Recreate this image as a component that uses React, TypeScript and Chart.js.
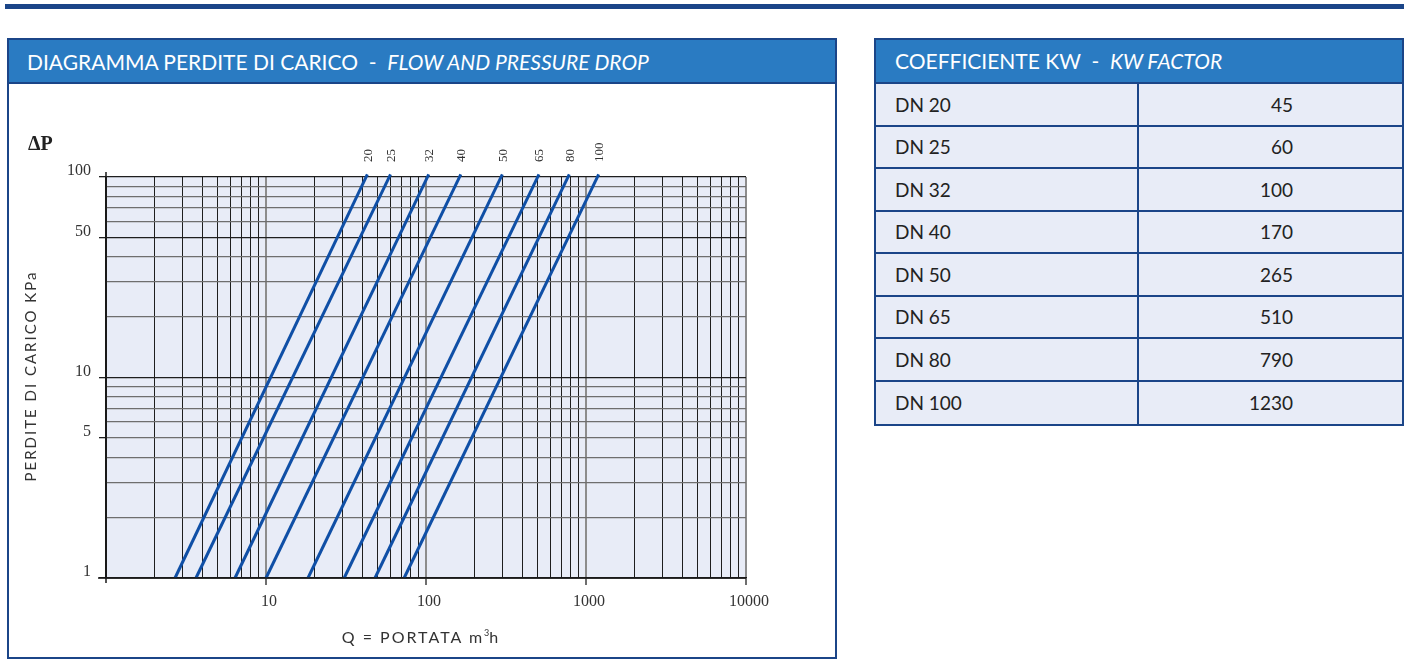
import React, { useEffect, useRef } from "react";
import { Chart, registerables } from "chart.js";

Chart.register(...registerables);

// ---- data ----
const DN_SIZES = ["20", "25", "32", "40", "50", "65", "80", "100"];
const FLOW_AT_BOTTOM = [2.7, 3.65, 6.4, 10, 18.3, 30.8, 48, 73]; // Q (m3/h) at ΔP = 1 kPa
const FLOW_AT_TOP = [43, 60, 104, 165, 300, 508, 786, 1200]; // Q (m3/h) at top end of each line
const DP_BOTTOM = 1;
const DP_TOP = 103;

const X_TICK_LABELS = [10, 100, 1000, 10000];
const Y_TICK_LABELS = [1, 5, 10, 50, 100];
const X_DECADES = [1, 10, 100, 1000, 10000];
const Y_DECADES = [1, 10, 100];
const GRID_MULTIPLES = [1, 2, 3, 4, 5, 6, 7, 8, 9];

const TABLE_DN = ["DN 20", "DN 25", "DN 32", "DN 40", "DN 50", "DN 65", "DN 80", "DN 100"];
const TABLE_KW = ["45", "60", "100", "170", "265", "510", "790", "1230"];

const buildGrid = (decades: number[]) => {
  const out: number[] = [];
  decades.forEach((d, i) => {
    if (i === decades.length - 1) out.push(d);
    else GRID_MULTIPLES.forEach((m) => out.push(m * d));
  });
  return out;
};
const X_GRID = buildGrid(X_DECADES);
const Y_GRID = buildGrid(Y_DECADES);

const NAVY = "#1b4588";
const HEADER_BLUE = "#2a7bc2";
const PLOT_BG = "#e8ecf7";
const LINE_BLUE = "#0f4fa6";

const bgPlugin = {
  id: "plotBg",
  beforeDraw(chart: any) {
    const { ctx, chartArea } = chart;
    ctx.save();
    ctx.fillStyle = PLOT_BG;
    ctx.fillRect(chartArea.left, chartArea.top, chartArea.right - chartArea.left, chartArea.bottom - chartArea.top);
    ctx.restore();
  },
};

const decorPlugin = {
  id: "decor",
  afterDraw(chart: any) {
    const { ctx, chartArea } = chart;
    ctx.save();
    // extended axes
    ctx.strokeStyle = "#1a1a1a";
    ctx.lineWidth = 1.5;
    ctx.beginPath();
    ctx.moveTo(chartArea.left, chartArea.top - 5);
    ctx.lineTo(chartArea.left, chartArea.bottom + 5);
    ctx.moveTo(chartArea.left - 8, chartArea.bottom);
    ctx.lineTo(chartArea.right, chartArea.bottom);
    ctx.stroke();
    // size labels above each line
    ctx.fillStyle = "#333";
    ctx.font = "13px 'Liberation Serif'";
    ctx.textAlign = "left";
    ctx.textBaseline = "middle";
    DN_SIZES.forEach((s, i) => {
      const meta = chart.getDatasetMeta(i);
      const pt = meta.data[1];
      if (!pt) return;
      ctx.save();
      ctx.translate(pt.x + 1, chartArea.top - 15);
      ctx.rotate(-Math.PI / 2);
      ctx.fillText(s, 0, 0);
      ctx.restore();
    });
    ctx.restore();
  },
};

function PressureChart() {
  const ref = useRef<HTMLCanvasElement | null>(null);
  useEffect(() => {
    if (!ref.current) return;
    const chart = new Chart(ref.current, {
      type: "line",
      data: {
        datasets: DN_SIZES.map((s, i) => ({
          label: "DN " + s,
          data: [
            { x: FLOW_AT_BOTTOM[i], y: DP_BOTTOM },
            { x: FLOW_AT_TOP[i], y: DP_TOP },
          ],
          borderColor: LINE_BLUE,
          borderWidth: 3,
          pointRadius: 0,
          fill: false,
          clip: false as any,
        })),
      },
      options: {
        animation: false,
        responsive: false,
        devicePixelRatio: 1,
        layout: { padding: { left: 0, top: 93, right: 89, bottom: 0 } },
        plugins: { legend: { display: false }, tooltip: { enabled: false } },
        scales: {
          x: {
            type: "logarithmic",
            min: 1,
            max: 10000,
            afterBuildTicks: (scale: any) => {
              scale.ticks = X_GRID.map((v) => ({ value: v }));
            },
            afterFit: (scale: any) => {
              scale.height = 79;
            },
            ticks: {
              autoSkip: false,
              maxRotation: 0,
              minRotation: 0,
              padding: 7,
              labelOffset: 3,
              color: "#333",
              font: { family: "'Liberation Serif'", size: 16 },
              callback: (v: any) => (X_TICK_LABELS.includes(Number(v)) ? String(v) : ""),
            },
            grid: {
              color: (c: any) => (c.tick && X_TICK_LABELS.includes(c.tick.value) ? "#8c8c8c" : "#1e1e1e"),
              lineWidth: (c: any) => (c.tick && X_TICK_LABELS.includes(c.tick.value) ? 2 : 1),
              tickColor: (c: any) => (c.tick && X_TICK_LABELS.includes(c.tick.value) ? "#6e6e6e" : "rgba(0,0,0,0)"),
              tickLength: 7,
              drawTicks: true,
            },
            border: { display: true, color: "#1a1a1a", width: 1.5 },
          },
          y: {
            type: "logarithmic",
            min: 1,
            max: 100,
            afterBuildTicks: (scale: any) => {
              scale.ticks = Y_GRID.map((v) => ({ value: v }));
            },
            afterFit: (scale: any) => {
              scale.width = 97;
            },
            ticks: {
              autoSkip: false,
              padding: 8,
              labelOffset: -6,
              color: "#333",
              font: { family: "'Liberation Serif'", size: 16 },
              callback: (v: any) => (Y_TICK_LABELS.includes(Number(v)) ? String(v) : ""),
            },
            grid: {
              color: (c: any) =>
                c.tick && (Y_DECADES.includes(c.tick.value) || c.tick.value === 50) ? "#1e1e1e" : "#6e6e6e",
              lineWidth: 1.3,
              tickColor: (c: any) => (c.tick && Y_TICK_LABELS.includes(c.tick.value) ? "#1e1e1e" : "rgba(0,0,0,0)"),
              tickLength: 7,
              drawTicks: true,
            },
            border: { display: true, color: "#1a1a1a", width: 1.5 },
          },
        },
      },
      plugins: [bgPlugin, decorPlugin],
    } as any);
    return () => chart.destroy();
  }, []);
  return <canvas ref={ref} width={826} height={573} style={{ display: "block", width: 826, height: 573 }} />;
}

const sans = "Lato, 'Open Sans', sans-serif";

export default function App() {
  const rowH = 42.5;
  return (
    <div
      style={{
        position: "fixed",
        left: 0,
        top: 0,
        width: 1409,
        height: 663,
        background: "#fff",
        overflow: "hidden",
        fontFamily: sans,
      }}
    >
      {/* top rule */}
      <div style={{ position: "absolute", left: 5, top: 4, width: 1399, height: 5, background: NAVY }} />

      {/* left panel */}
      <div
        style={{
          position: "absolute",
          left: 7,
          top: 38,
          width: 830,
          height: 621,
          border: `2px solid ${NAVY}`,
          boxSizing: "border-box",
          background: "#fff",
        }}
      >
        <div
          style={{
            height: 42,
            background: HEADER_BLUE,
            borderBottom: `2px solid ${NAVY}`,
            color: "#fff",
            fontSize: 21,
            lineHeight: "44px",
            paddingLeft: 18,
            whiteSpace: "pre",
          }}
        >
          {"DIAGRAMMA PERDITE DI CARICO  -  "}
          <i>FLOW AND PRESSURE DROP</i>
        </div>
        <div style={{ position: "relative", width: 826, height: 573 }}>
          <PressureChart />
        </div>
      </div>

      {/* axis texts */}
      <div
        style={{
          position: "absolute",
          left: 28,
          top: 132,
          fontFamily: "'Liberation Serif', serif",
          fontWeight: "bold",
          fontSize: 20,
          color: "#222",
        }}
      >
        ΔP
      </div>
      <div
        style={{
          position: "absolute",
          left: 30,
          top: 376,
          transform: "translate(-50%, -50%) rotate(-90deg)",
          whiteSpace: "nowrap",
          fontSize: 15,
          letterSpacing: 2,
          color: "#333",
        }}
      >
        PERDITE DI CARICO KPa
      </div>
      <div
        style={{
          position: "absolute",
          left: 421,
          top: 636,
          transform: "translate(-50%, -50%)",
          whiteSpace: "nowrap",
          fontSize: 16,
          letterSpacing: 2,
          color: "#333",
        }}
      >
        Q = PORTATA m<sup style={{ fontSize: 9, letterSpacing: 0 }}>3</sup>h
      </div>

      {/* right table */}
      <div
        style={{
          position: "absolute",
          left: 874,
          top: 38,
          width: 530,
          height: 388,
          border: `2px solid ${NAVY}`,
          boxSizing: "border-box",
          background: PLOT_BG,
        }}
      >
        <div
          style={{
            height: 42,
            background: HEADER_BLUE,
            borderBottom: `2px solid ${NAVY}`,
            color: "#fff",
            fontSize: 21,
            lineHeight: "42px",
            paddingLeft: 19,
            whiteSpace: "pre",
          }}
        >
          {"COEFFICIENTE KW  -  "}
          <i>KW FACTOR</i>
        </div>
        {TABLE_DN.map((dn, i) => (
          <div
            key={dn}
            style={{
              position: "absolute",
              left: 0,
              top: 44 + i * rowH,
              width: 526,
              height: rowH,
              boxSizing: "border-box",
              borderBottom: i < TABLE_DN.length - 1 ? `2px solid ${NAVY}` : "none",
              fontSize: 19,
              color: "#222",
            }}
          >
            <div
              style={{
                position: "absolute",
                left: 0,
                top: 0,
                width: 263,
                height: "100%",
                borderRight: `2px solid ${NAVY}`,
                boxSizing: "border-box",
                paddingLeft: 19,
                display: "flex",
                alignItems: "center",
              }}
            >
              {dn}
            </div>
            <div
              style={{
                position: "absolute",
                left: 263,
                top: 0,
                width: 263,
                height: "100%",
                boxSizing: "border-box",
                paddingRight: 109,
                display: "flex",
                alignItems: "center",
                justifyContent: "flex-end",
              }}
            >
              {TABLE_KW[i]}
            </div>
          </div>
        ))}
      </div>
    </div>
  );
}
